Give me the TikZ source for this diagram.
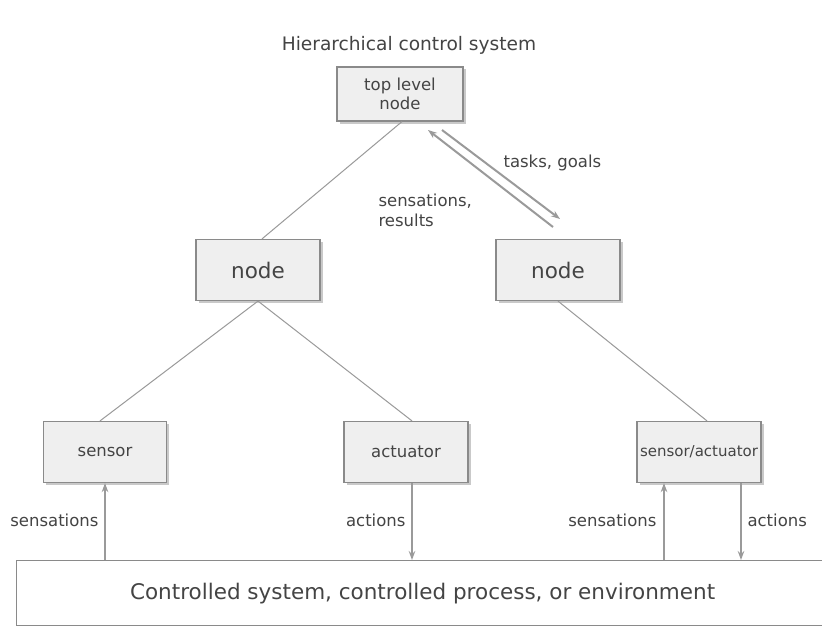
\documentclass[tikz,border=0pt]{standalone}
\usepackage{fontspec}
\setmainfont{DejaVu Sans}
\usetikzlibrary{shadows,arrows.meta}
\definecolor{boxfill}{HTML}{EFEFEF}
\definecolor{boxline}{HTML}{8A8A8A}
\definecolor{wire}{HTML}{9A9A9A}
\definecolor{ink}{HTML}{444444}
\tikzset{
  unitbox/.style={draw=boxline, line width=1.2pt, fill=boxfill, text=ink,
    minimum width=124pt, minimum height=61pt, inner sep=2pt, align=center,
    drop shadow={shadow xshift=2.5pt, shadow yshift=-2.5pt, fill=black!35, opacity=0.6}},
  bigtext/.style={font=\fontsize{21.5}{24}\selectfont},
  smalltext/.style={font=\fontsize{16.5}{19}\selectfont},
  label/.style={text=ink, font=\fontsize{16.5}{20}\selectfont},
  link/.style={draw=wire, line width=1pt},
  flow/.style={draw=wire, line width=2pt, -{Stealth[length=9pt,width=6.5pt]}},
}
\begin{document}
\begin{tikzpicture}[x=1pt,y=-1pt]
\useasboundingbox (0,0) rectangle (822,626);
\fill[white] (0,0) rectangle (822,626);

% title
\node[text=ink, font=\fontsize{18.6}{20}\selectfont] (title) at (409,45) {Hierarchical control system};

% tree of control units
\node[unitbox, smalltext, minimum width=126pt, minimum height=54pt] (top) at (400,94) {top level\\node};
\node[unitbox, bigtext] (left) at (258,270) {node};
\node[unitbox, bigtext] (right) at (558,270) {node};
\node[unitbox, smalltext, minimum width=123pt] (sensor) at (105,452) {sensor};
\node[unitbox, smalltext, minimum width=124pt] (actuator) at (406,452) {actuator};
\node[unitbox, font=\fontsize{15}{18}\selectfont, minimum width=124pt, inner sep=0pt] (sa) at (699,452) {sensor/actuator};

% controlled system
\node[draw=boxline, line width=1.2pt, fill=white, text=ink, bigtext,
      minimum width=820pt, minimum height=65pt, anchor=north west] (env) at (16,560)
      {\hspace*{-8pt}Controlled system, controlled process, or environment};

% hierarchy links
\draw[link] (top.south -| 402,0) -- (left.north -| 262,0);
\draw[link] (left.south) -- (sensor.north -| 100,0);
\draw[link] (left.south) -- (actuator.north -| 412,0);
\draw[link] (right.south) -- (sa.north -| 707,0);

% task / feedback exchange between top and right nodes
\coordinate (upS) at (553,227);
\coordinate (upE) at (428,130);
\coordinate (dnS) at (442,130);
\coordinate (dnE) at (560,219);
\draw[flow] (upS) -- (upE);
\draw[flow] (dnS) -- (dnE);
\node[label, anchor=west] (tg) at (500,163) {tasks, goals};
\node[label, anchor=west, align=left] (sr) at (375,210) {sensations,\\results};

% signals to and from the controlled system
\draw[flow] (env.north -| sensor) -- (sensor.south);
\draw[flow] (actuator.south -| 412,0) -- (env.north -| 412,0);
\draw[flow] (env.north -| 664,0) -- (sa.south -| 664,0);
\draw[flow] (sa.south -| 741,0) -- (env.north -| 741,0);

\node[label, anchor=east] (s1) at (102,520) {sensations};
\node[label, anchor=east] (a1) at (409,520) {actions};
\node[label, anchor=east] (s2) at (660,520) {sensations};
\node[label, anchor=west] (a2) at (744,520) {actions};
\end{tikzpicture}
\end{document}
